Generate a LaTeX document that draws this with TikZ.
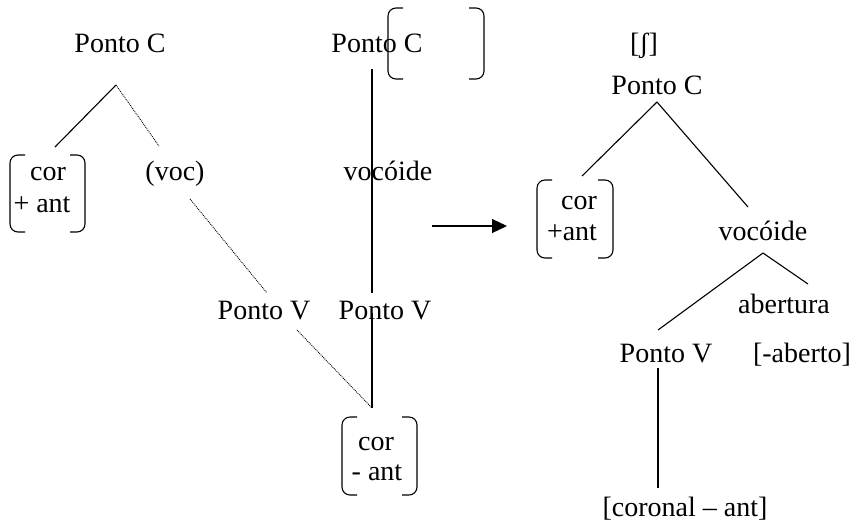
\documentclass[tikz,border=0pt]{standalone}
\usepackage{fontspec}
\setmainfont{Liberation Serif}
\usetikzlibrary{arrows.meta}

\begin{document}
\begin{tikzpicture}[x=1pt, y=-1pt, line width=1.1pt,
    every node/.style={inner sep=0pt, anchor=base, font=\fontsize{28}{32}\selectfont},
    dots/.style={densely dotted, line width=0.9pt}]
    \useasboundingbox (0,0) rectangle (858,531);

    % Left tree
    \node (pcL) at (120,52) {Ponto C};
    \node (corL) at (48,180) {cor};
    \node (antL) at (42,212) {+ ant};
    \node (vocL) at (175,180) {(voc)};
    \node (pvL) at (264,319) {Ponto V};

    % Middle column
    \node (pcM) at (377,52) {Ponto C};
    \node (vocM) at (388,180) {voc\'oide};
    \node (pvM) at (385,319) {Ponto V};
    \node (corM) at (376,450) {cor};
    \node (antM) at (377,480) {- ant};

    % Right tree
    \node (esh) at (644,52) {[ʃ]};
    \node (pcR) at (657,94) {Ponto C};
    \node (corR) at (579,209) {cor};
    \node (antR) at (572,240) {+ant};
    \node (vocR) at (763,240) {voc\'oide};
    \node (abR) at (784,313) {abertura};
    \node (pvR) at (666,362) {Ponto V};
    \node (abtR) at (802,362) {[-aberto]};
    \node (corantR) at (685,516) {[coronal -- ant]};

    % Line ends
    \coordinate (pcL-b) at (116,85);
    \coordinate (corL-t) at (55,147);
    \coordinate (vocL-t) at (159,146);
    \coordinate (vocL-b) at (190,199);
    \coordinate (pvL-t) at (267,293);
    \coordinate (pvL-b) at (297,330);
    \coordinate (pcM-b) at (372,69);
    \coordinate (pvM-t) at (372,293);
    \coordinate (pvM-b) at (372,313);
    \coordinate (corM-t) at (372,408);
    \coordinate (pcR-b) at (657,102);
    \coordinate (corR-t) at (582,176);
    \coordinate (vocR-t) at (748,207);
    \coordinate (vocR-b) at (763,253);
    \coordinate (pvR-t) at (658,330);
    \coordinate (abR-t) at (808,284);
    \coordinate (pvR-b) at (658,368);
    \coordinate (corantR-t) at (658,488);
    \coordinate (arr-a) at (432,226);
    \coordinate (arr-b) at (507,226);

    % Associations
    \draw (pcL-b) -- (corL-t);
    \draw[dots] (pcL-b) -- (vocL-t);
    \draw[dots] (vocL-b) -- (pvL-t);
    \draw[dots] (pvL-b) -- (corM-t);
    \draw (pcM-b) -- (pvM-t);
    \draw (pvM-b) -- (corM-t);
    \draw (pcR-b) -- (corR-t);
    \draw (pcR-b) -- (vocR-t);
    \draw (vocR-b) -- (pvR-t);
    \draw (vocR-b) -- (abR-t);
    \draw (pvR-b) -- (corantR-t);
    \draw[-{Triangle[length=15pt,width=14pt]}] (arr-a) -- (arr-b);

    % Feature brackets
    \foreach \l/\t/\r/\b in {10/155/85/232, 388/8/484/79, 342/417/417/495, 537/180/613/258} {
      \draw[rounded corners=8pt] (\l+15,\t) -- (\l,\t) -- (\l,\b) -- (\l+15,\b);
      \draw[rounded corners=8pt] (\r-15,\t) -- (\r,\t) -- (\r,\b) -- (\r-15,\b);
    }
\end{tikzpicture}
\end{document}
